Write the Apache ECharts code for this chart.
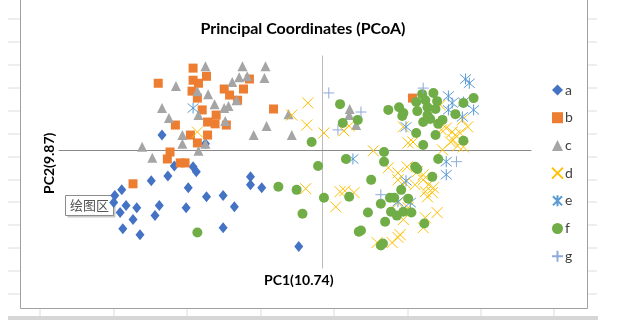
<!DOCTYPE html>
<html>
<head>
<meta charset="utf-8">
<script src="https://cdn.jsdelivr.net/npm/echarts@6/dist/echarts.min.js"></script>
<style>
  html, body { margin: 0; padding: 0; background: #ffffff; }
  #chart { width: 624px; height: 324px; }
</style>
</head>
<body>
<div id="chart"></div>
<script>
// PCoA ordination scores, one array of [PC1, PC2] pairs per group
const chartTitle = 'Principal Coordinates (PCoA)';
const xAxisTitle = 'PC1(10.74)';
const yAxisTitle = 'PC2(9.87)';
const groupNames = ['a', 'b', 'c', 'd', 'e', 'f', 'g'];

const groupA = [
  [-0.298, 0.049], [-0.386, -0.151], [-0.373, -0.132], [-0.388, -0.174], [-0.365, -0.184],
  [-0.376, -0.207], [-0.345, -0.191], [-0.352, -0.230], [-0.371, -0.260], [-0.339, -0.280],
  [-0.318, -0.102], [-0.287, -0.086], [-0.275, -0.053], [-0.303, -0.184], [-0.311, -0.217],
  [-0.249, -0.125], [-0.253, -0.191], [-0.240, -0.056], [-0.234, -0.072], [-0.215, -0.155],
  [-0.184, -0.151], [-0.163, -0.188], [-0.184, -0.257], [-0.133, -0.089], [-0.133, -0.115],
  [-0.112, -0.125], [-0.043, -0.319], [-0.217, 0.020]
];
const groupB = [
  [-0.240, 0.270], [-0.305, 0.220], [-0.240, 0.230], [-0.230, 0.220], [-0.215, 0.243],
  [-0.242, 0.194], [-0.232, 0.171], [-0.223, 0.132], [-0.273, 0.082], [-0.213, 0.092],
  [-0.197, 0.115], [-0.199, 0.086], [-0.178, 0.082], [-0.245, 0.049], [-0.213, 0.049],
  [-0.232, 0.023], [-0.283, -0.007], [-0.288, -0.030], [-0.264, -0.043], [-0.255, -0.043],
  [-0.352, -0.112], [-0.182, 0.201], [-0.172, 0.181], [-0.146, 0.201], [-0.157, 0.164],
  [-0.135, 0.234], [-0.090, 0.135], [0.169, 0.171]
];
const groupC = [
  [-0.217, 0.276], [-0.148, 0.276], [-0.105, 0.276], [-0.272, 0.211], [-0.232, 0.194],
  [-0.212, 0.184], [-0.167, 0.224], [-0.154, 0.240], [-0.139, 0.243], [-0.107, 0.237],
  [-0.159, 0.164], [-0.200, 0.151], [-0.298, 0.138], [-0.174, 0.145], [-0.182, 0.138],
  [-0.285, 0.105], [-0.230, 0.115], [-0.180, 0.095], [-0.103, 0.079], [-0.062, 0.118],
  [-0.127, 0.049], [-0.056, 0.049], [-0.260, 0.049], [-0.260, 0.020], [-0.217, 0.020],
  [-0.230, -0.003], [-0.335, 0.010], [-0.316, -0.026], [0.052, 0.135], [0.051, 0.115],
  [0.064, 0.082]
];
const groupD = [
  [-0.232, 0.059], [-0.056, 0.115], [-0.026, 0.155], [-0.028, 0.082], [0.004, 0.056],
  [0.041, 0.063], [0.051, 0.079], [0.096, -0.003], [0.152, 0.076], [0.161, 0.023],
  [0.170, 0.026], [0.223, 0.066], [0.232, 0.072], [0.243, 0.059], [0.249, 0.049],
  [0.245, 0.033], [0.258, 0.056], [0.272, 0.076], [0.240, 0.026], [0.253, 0.013],
  [0.225, 0.000], [0.264, 0.010], [0.124, -0.059], [0.142, -0.076], [0.159, -0.056],
  [0.178, -0.072], [0.189, -0.082], [0.142, -0.099], [0.155, -0.109], [0.174, -0.115],
  [0.189, -0.099], [0.199, -0.115], [0.208, -0.125], [0.193, -0.138], [0.197, -0.155],
  [0.206, -0.141], [-0.030, -0.128], [0.034, -0.138], [0.043, -0.135], [0.060, -0.141],
  [0.026, -0.188], [0.215, -0.207], [0.193, -0.224], [0.189, -0.257], [0.146, -0.280],
  [0.142, -0.289], [0.103, -0.306], [0.131, -0.306], [0.152, -0.230], [0.161, -0.191],
  [0.142, -0.174], [0.221, 0.148], [0.262, 0.099]
];
const groupE = [
  [-0.240, 0.138], [0.268, 0.234], [0.275, 0.220], [0.236, 0.178], [0.243, 0.155],
  [0.236, 0.132], [0.264, 0.158], [0.283, 0.132], [0.262, 0.109], [0.157, 0.076],
  [0.058, -0.030], [0.232, -0.039], [0.232, -0.082], [0.157, -0.102], [0.142, -0.171],
  [0.165, -0.174]
];
const groupF = [
  [-0.019, 0.026], [0.034, 0.151], [0.039, 0.089], [0.067, 0.099], [-0.007, -0.053],
  [-0.081, -0.122], [-0.047, -0.132], [-0.036, -0.211], [0.004, -0.158], [0.051, -0.155],
  [0.045, -0.030], [-0.232, -0.273], [0.069, -0.270], [0.110, -0.316], [0.116, -0.007],
  [0.116, -0.039], [0.092, -0.099], [0.124, 0.132], [0.144, 0.141], [0.152, 0.122],
  [0.150, 0.112], [0.176, 0.158], [0.178, 0.128], [0.193, 0.164], [0.208, 0.188],
  [0.215, 0.161], [0.197, 0.141], [0.212, 0.135], [0.197, 0.115], [0.189, 0.092],
  [0.202, 0.102], [0.217, 0.086], [0.225, 0.099], [0.212, 0.049], [0.176, 0.056],
  [0.189, 0.016], [0.249, 0.118], [0.264, 0.155], [0.283, 0.171], [0.264, 0.030],
  [0.174, -0.056], [0.178, -0.063], [0.206, -0.089], [0.217, -0.030], [0.148, -0.132],
  [0.127, -0.158], [0.135, -0.158], [0.110, -0.178], [0.161, -0.161], [0.129, -0.204],
  [0.140, -0.217], [0.152, -0.204], [0.167, -0.207], [0.086, -0.207], [0.118, -0.237],
  [0.191, -0.243], [0.073, -0.266], [0.114, -0.309], [0.187, 0.184]
];
const groupG = [
  [0.013, 0.188], [0.073, 0.125], [0.030, 0.066], [0.189, 0.204], [0.251, -0.039],
  [0.110, -0.148]
];

const groupData = [groupA, groupB, groupC, groupD, groupE, groupF, groupG];
const groupColors = ['#4472C4', '#ED7D31', '#A5A5A5', '#FFC000', '#5B9BD5', '#70AD47', '#8EA9DB'];

// marker shapes: filled symbols and stroked line glyphs
const crossGlyph = 'path://M0,0L10,10M10,0L0,10';
const starGlyph = 'path://M0,0L10,10M10,0L0,10M5,-1L5,11';
const plusGlyph = 'path://M5,0L5,10M0,5L10,5';
const groupSymbols = ['diamond', 'rect', 'triangle', crossGlyph, starGlyph, 'circle', plusGlyph];
const groupSizes = [[9, 11], 9, 10, 11, 11, 10, 11];
const strokedGroups = [false, false, false, true, true, false, true];

const chart = echarts.init(document.getElementById('chart'), null, { renderer: 'canvas' });

const series = groupNames.map((name, i) => ({
  name: name,
  type: 'scatter',
  data: groupData[i],
  symbol: groupSymbols[i],
  symbolSize: groupSizes[i],
  itemStyle: strokedGroups[i]
    ? { color: 'rgba(0,0,0,0)', borderColor: groupColors[i], borderWidth: 1, opacity: 1 }
    : { color: groupColors[i], opacity: 1 },
  emphasis: { disabled: true }
}));

// spreadsheet cell borders around the embedded chart object
const sheetLines = [];
const rowYs = [19, 42, 65, 88, 111, 134, 157, 180, 202, 225, 248, 271, 294];
rowYs.forEach(y => {
  sheetLines.push({ type: 'line', shape: { x1: 8, y1: y, x2: 20, y2: y }, style: { stroke: '#dcdcdc', lineWidth: 1 }, silent: true });
  sheetLines.push({ type: 'line', shape: { x1: 588, y1: y, x2: 597, y2: y }, style: { stroke: '#dcdcdc', lineWidth: 1 }, silent: true });
});
const colXs = [40, 114, 187, 261, 334, 408, 481, 554];
colXs.forEach(x => {
  sheetLines.push({ type: 'line', shape: { x1: x, y1: 309, x2: x, y2: 318 }, style: { stroke: '#dcdcdc', lineWidth: 1 }, silent: true });
});

chart.setOption({
  animation: false,
  backgroundColor: '#ffffff',
  title: {
    text: chartTitle,
    left: 298,
    top: 16,
    textAlign: 'center',
    textStyle: { fontFamily: 'Lato', fontWeight: 'bold', fontSize: 16, color: '#000000' }
  },
  legend: {
    orient: 'vertical',
    left: 546,
    top: 78,
    itemWidth: 11,
    itemHeight: 11,
    itemGap: 13.7,
    data: groupNames,
    textStyle: { fontFamily: 'Lato', fontSize: 14, color: '#404040', padding: [0, 0, 0, -3] }
  },
  grid: { left: 59, right: 93, top: 56, bottom: 56, containLabel: false },
  xAxis: {
    type: 'value',
    min: -0.49,
    max: 0.39,
    axisLine: { onZero: true, lineStyle: { color: '#8a8a8a', width: 1 } },
    axisTick: { show: false },
    axisLabel: { show: false },
    splitLine: { show: false }
  },
  yAxis: {
    type: 'value',
    min: -0.39,
    max: 0.31,
    axisLine: { onZero: true, lineStyle: { color: '#bcbcbc', width: 1 } },
    axisTick: { show: false },
    axisLabel: { show: false },
    splitLine: { show: false }
  },
  series: series,
  graphic: sheetLines.concat([
    // chart object border
    { type: 'polyline', shape: { points: [[20.5, 0], [20.5, 308.5], [587.5, 308.5], [587.5, 0]] },
      style: { stroke: '#a0a0a0', lineWidth: 1, fill: null }, silent: true },
    { type: 'rect', shape: { x: 8, y: 316, width: 590, height: 4 }, style: { fill: '#d6d6d6' }, silent: true },
    // axis titles
    { type: 'text', left: 264, top: 273,
      style: { text: xAxisTitle, fontFamily: 'Lato', fontWeight: 'bold', fontSize: 14, fill: '#000000' } },
    { type: 'text', x: 42, y: 194, rotation: Math.PI / 2,
      style: { text: yAxisTitle, fontFamily: 'Lato', fontWeight: 'bold', fontSize: 14, fill: '#000000' } },
    // hover hint box
    { type: 'group', left: 65, top: 195, z: 100, children: [
      { type: 'rect', shape: { x: 2, y: 2, width: 48, height: 20 }, style: { fill: '#c8c8c8' } },
      { type: 'rect', shape: { x: 0, y: 0, width: 48, height: 20 }, style: { fill: '#ffffff', stroke: '#8c8c8c', lineWidth: 1 } },
      { type: 'text', x: 24, y: 10, style: { text: '绘图区', fontFamily: 'Noto Sans CJK SC', fontSize: 13, fill: '#555555', align: 'center', verticalAlign: 'middle' } }
    ] }
  ])
});
</script>
</body>
</html>
